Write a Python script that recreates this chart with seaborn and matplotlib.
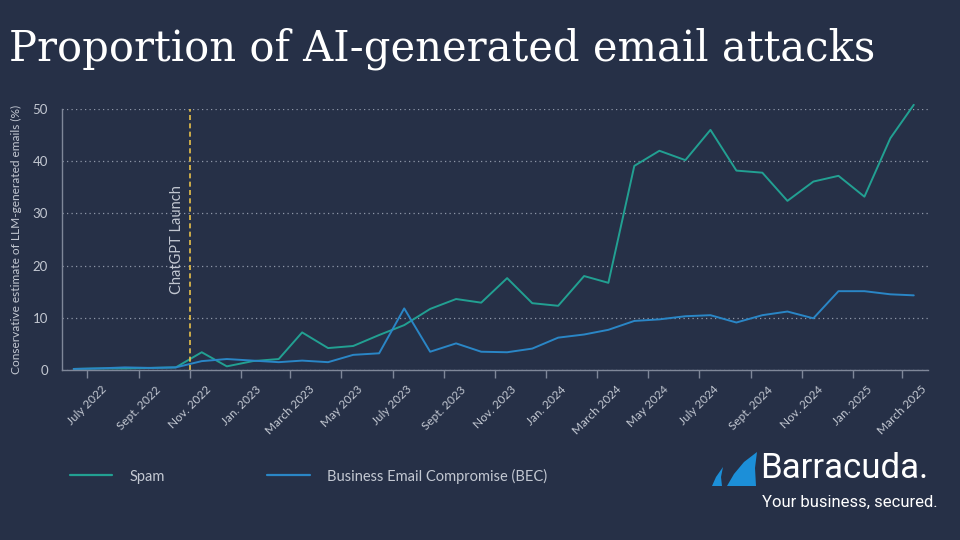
import matplotlib
matplotlib.use("Agg")
from matplotlib import pyplot as plt
from matplotlib.patches import Polygon
import pandas as pd
import seaborn as sns

# monthly points (mid-month), June 2022 .. March 2025
months = pd.date_range("2022-06-01", "2025-03-01", freq="MS") + pd.Timedelta(days=14)
spam = [0.2, 0.3, 0.3, 0.4, 0.5, 3.4, 0.7, 1.7, 2.1, 7.2, 4.2, 4.6,
        6.7, 8.6, 11.7, 13.6, 12.9, 17.6, 12.8, 12.3, 18.0, 16.7,
        39.1, 42.0, 40.2, 46.0, 38.2, 37.8, 32.4, 36.1, 37.2, 33.2, 44.4, 50.8]
bec = [0.2, 0.3, 0.5, 0.4, 0.5, 1.7, 2.1, 1.8, 1.5, 1.8, 1.5, 2.9,
       3.2, 11.8, 3.5, 5.1, 3.5, 3.4, 4.1, 6.2, 6.8, 7.7,
       9.4, 9.7, 10.3, 10.5, 9.1, 10.5, 11.2, 9.9, 15.1, 15.1, 14.5, 14.3]
series_names = ["Spam", "Business Email Compromise (BEC)"]
tick_dates = pd.date_range("2022-07-01", "2025-03-01", freq="2MS")
tick_labels = ["July 2022", "Sept. 2022", "Nov. 2022", "Jan. 2023", "March 2023",
               "May 2023", "July 2023", "Sept. 2023", "Nov. 2023", "Jan. 2024",
               "March 2024", "May 2024", "July 2024", "Sept. 2024", "Nov. 2024",
               "Jan. 2025", "March 2025"]
launch_date = pd.Timestamp("2022-11-01")

df = pd.DataFrame({
    "month": list(months) * 2,
    "value": spam + bec,
    "series": [series_names[0]] * len(spam) + [series_names[1]] * len(bec),
})

BG = "#263047"
TXT = "#c3c8d2"
AXC = "#7f8799"

sns.set_theme(style="dark", rc={"axes.facecolor": BG, "figure.facecolor": BG})
plt.rcParams["font.family"] = ["Lato", "DejaVu Sans"]

fig = plt.figure(figsize=(9.6, 5.4), dpi=100, facecolor=BG)
ax = fig.add_axes([62 / 960, 170 / 540, 866 / 960, 261 / 540])

sns.lineplot(data=df, x="month", y="value", hue="series",
             palette=["#22a092", "#2a86c6"], linewidth=1.4, ax=ax)
for ln in ax.lines:
    ln.set_clip_on(False)

handles, labels = ax.get_legend_handles_labels()
ax.get_legend().remove()

ax.set_xlim(pd.Timestamp("2022-06-01"), pd.Timestamp("2025-04-01"))
ax.set_ylim(0, 50)
ax.set_yticks([0, 10, 20, 30, 40, 50])
ax.set_xticks(tick_dates)
ax.set_xticklabels(tick_labels, rotation=45, ha="center")
ax.yaxis.grid(True, linestyle=(0, (1, 2.6)), color="#8e97a8", linewidth=0.9)
ax.xaxis.grid(False)
ax.set_axisbelow(True)

for s in ["top", "right"]:
    ax.spines[s].set_visible(False)
for s in ["left", "bottom"]:
    ax.spines[s].set_color(AXC)
    ax.spines[s].set_linewidth(1.0)

ax.tick_params(axis="x", direction="out", length=6, width=1, color=AXC,
               labelcolor=TXT, labelsize=8.5, pad=4, bottom=True)
ax.tick_params(axis="y", length=0, labelcolor=TXT, labelsize=9.5, pad=10)
ax.set_xlabel("")
ax.set_ylabel("Conservative estimate of LLM-generated emails (%)",
              color=TXT, fontsize=8.6, labelpad=8)

ax.axvline(launch_date, ymin=0, ymax=1, color="#e8c14a",
           linestyle=(0, (3, 2)), linewidth=1.2)
ax.text(pd.Timestamp("2022-10-16"), 25, "ChatGPT Launch", rotation=90,
        ha="center", va="center", color=TXT, fontsize=10.5)

fig.text(9 / 960, 1 - 49 / 540, "Proportion of AI-generated email attacks",
         color="white", fontsize=30, family=["DejaVu Serif"], va="center", ha="left")

leg = fig.legend(handles, labels, loc="center left",
                 bbox_to_anchor=(70 / 960, 1 - 476 / 540), ncol=2, frameon=False,
                 fontsize=10.5, handlelength=2.9, handletextpad=1.2,
                 columnspacing=7.0, borderpad=0, borderaxespad=0)
for t in leg.get_texts():
    t.set_color(TXT)
for h in leg.legend_handles:
    h.set_linewidth(1.6)

# logo
def fpt(x, y):
    return (x / 960, 1 - y / 540)

fin = [fpt(*p) for p in [(727, 486), (734, 474), (744, 462), (757, 452),
                         (755, 468), (756, 486)]]
sliver = [fpt(*p) for p in [(712, 486), (716, 477), (723, 467), (721, 477), (722, 486)]]
for pts in (fin, sliver):
    fig.patches.append(Polygon(pts, closed=True, transform=fig.transFigure,
                               facecolor="#1c8fd8", edgecolor="none"))
fig.text(760 / 960, 1 - 469 / 540, "Barracuda.", color="white", fontsize=25,
         family=["Liberation Sans Narrow", "Roboto", "DejaVu Sans"], va="center", ha="left")
fig.text(762 / 960, 1 - 502 / 540, "Your business, secured.", color="white", fontsize=12,
         family=["Liberation Sans Narrow", "Roboto", "DejaVu Sans"], va="center", ha="left")

fig.savefig("out.png", dpi=100, facecolor=BG)
